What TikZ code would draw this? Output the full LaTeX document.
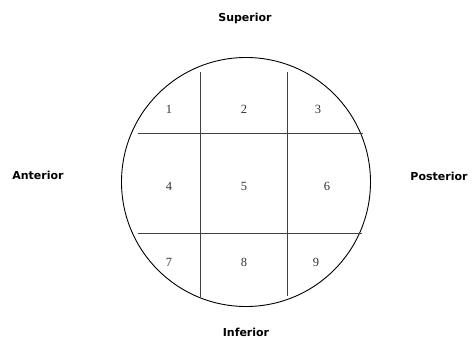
\documentclass[tikz,border=0pt]{standalone}
\usepackage{fontspec}
\setmainfont{Liberation Serif}
\newfontfamily\labfont{DejaVu Sans}
\begin{document}
\begin{tikzpicture}[x=1pt,y=-1pt,
  dirlabel/.style={font=\labfont\bfseries\fontsize{11}{13}\selectfont, text=black, inner sep=0pt},
  numlabel/.style={font=\fontsize{12.5}{14}\selectfont, text=black!80, inner sep=0pt},
  gridline/.style={line width=0.8pt, draw=black!75},
  rim/.style={line width=0.9pt, draw=black}]
\useasboundingbox (0,0) rectangle (474,340);
\node[circle, minimum size=249pt, rim, inner sep=0pt] (disc) at (246,182) {};
% grid
\coordinate (v1t) at (200,72); \coordinate (v1b) at (200,297);
\coordinate (v2t) at (287,72); \coordinate (v2b) at (287,296);
\coordinate (h1l) at (138,133); \coordinate (h1r) at (363,133);
\coordinate (h2l) at (138,233); \coordinate (h2r) at (362,233);
\draw[gridline] (v1t) -- (v1b);
\draw[gridline] (v2t) -- (v2b);
\draw[gridline] (h1l) -- (h1r);
\draw[gridline] (h2l) -- (h2r);
% numbers
\node[numlabel] (n1) at (169,109) {1};
\node[numlabel] (n2) at (244,109) {2};
\node[numlabel] (n3) at (318,109) {3};
\node[numlabel] (n4) at (169,186) {4};
\node[numlabel] (n5) at (244,186) {5};
\node[numlabel] (n6) at (327,186) {6};
\node[numlabel] (n7) at (169,262) {7};
\node[numlabel] (n8) at (244,262) {8};
\node[numlabel] (n9) at (316,262) {9};
% direction labels
\node[dirlabel] (sup) at (245,18) {Superior};
\node[dirlabel] (ant) at (38,175) {Anterior};
\node[dirlabel] (post) at (439,176) {Posterior};
\node[dirlabel] (inf) at (246,332) {Inferior};
\end{tikzpicture}
\end{document}
